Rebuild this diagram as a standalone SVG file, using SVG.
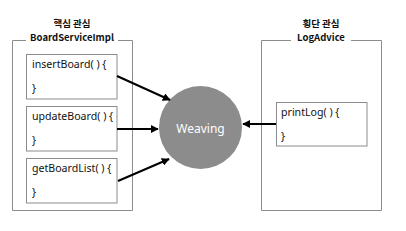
<svg xmlns="http://www.w3.org/2000/svg" width="406" height="231" viewBox="0 0 406 231">
<style>
.frame{fill:none;stroke:#8c8c8c;stroke-width:1}
.box{fill:#fff;stroke:#8c8c8c;stroke-width:1}
.code{font-family:"Noto Sans","Noto Sans CJK KR",sans-serif;font-size:10.6px;fill:#111}
.title{font-family:"Noto Sans CJK KR","Noto Sans",sans-serif;font-size:9.5px;font-weight:bold;fill:#111;text-anchor:middle}
.arrow{stroke:#000;stroke-width:2;fill:none;marker-end:url(#ah)}
</style>
<defs>
<marker id="ah" viewBox="0 0 10 10" refX="9" refY="5" markerWidth="4" markerHeight="4" orient="auto" markerUnits="strokeWidth">
<path d="M0,0 L10,5 L0,10 z" fill="#000"/>
</marker>
</defs>
<rect width="406" height="231" fill="#fff"/>
<g id="core">
<path class="frame" d="M26,40.5 H12.5 V210.5 H132.5 V40.5 H118"/>
<text class="title" x="72" y="27">핵심 관심</text>
<text class="title" x="72" y="41">BoardServiceImpl</text>
</g>
<g id="insertBoard">
<rect class="box" x="26.5" y="54.5" width="90.5" height="44.5"/>
<text class="code" x="32" y="68">insertBoard( ) {</text>
<text class="code" x="32" y="92">}</text>
</g>
<g id="updateBoard">
<rect class="box" x="26.5" y="106.5" width="90.5" height="44.5"/>
<text class="code" x="32" y="120">updateBoard( ) {</text>
<text class="code" x="32" y="144">}</text>
</g>
<g id="getBoardList">
<rect class="box" x="26.5" y="158.5" width="90.5" height="44.5"/>
<text class="code" x="32" y="172">getBoardList( ) {</text>
<text class="code" x="32" y="196">}</text>
</g>
<g id="weaving">
<circle cx="200.5" cy="127.5" r="41.5" fill="#8c8c8c"/>
<text x="200.5" y="133" text-anchor="middle" font-family="Noto Sans, sans-serif" font-size="12" fill="#fff">Weaving</text>
</g>
<g id="cross">
<path class="frame" d="M291,40.5 H261.5 V210.5 H381.5 V40.5 H351"/>
<text class="title" x="321" y="27">횡단 관심</text>
<text class="title" x="321" y="41">LogAdvice</text>
</g>
<g id="printLog">
<rect class="box" x="276.5" y="102.5" width="90.5" height="43.5"/>
<text class="code" x="281" y="116">printLog( ) {</text>
<text class="code" x="281" y="140">}</text>
</g>
<g id="connectors">
<line class="arrow" x1="117" y1="76" x2="170" y2="100"/>
<line class="arrow" x1="117" y1="129" x2="158" y2="129"/>
<line class="arrow" x1="118" y1="181" x2="169" y2="159"/>
<line class="arrow" x1="276" y1="124" x2="243" y2="124"/>
</g>
</svg>
